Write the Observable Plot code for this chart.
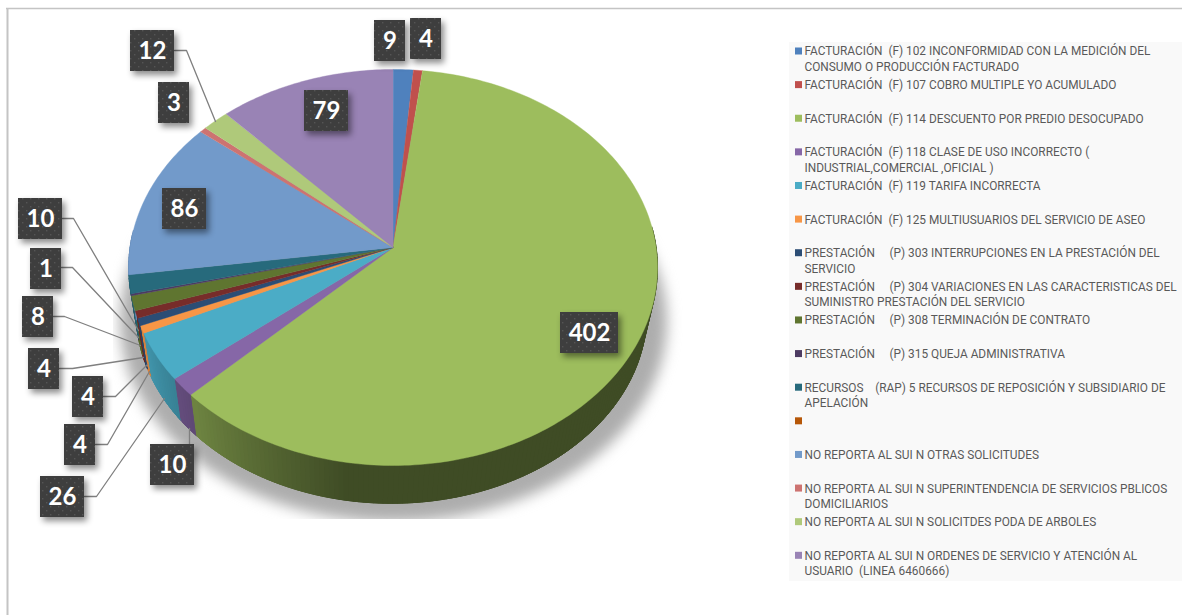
<!DOCTYPE html>
<html><head><meta charset="utf-8">
<script src="https://cdn.jsdelivr.net/npm/d3@7"></script>
<script src="https://cdn.jsdelivr.net/npm/@observablehq/plot@0.6"></script>
<style>html,body{margin:0;padding:0;background:#fff}svg{display:block}</style>
</head><body><div id="chart"></div>
<script>
const categories = [
  "FACTURACIÓN  (F) 102 INCONFORMIDAD CON LA MEDICIÓN DEL\nCONSUMO O PRODUCCIÓN FACTURADO",
  "FACTURACIÓN  (F) 107 COBRO MULTIPLE YO ACUMULADO",
  "FACTURACIÓN  (F) 114 DESCUENTO POR PREDIO DESOCUPADO",
  "FACTURACIÓN  (F) 118 CLASE DE USO INCORRECTO (\nINDUSTRIAL,COMERCIAL ,OFICIAL )",
  "FACTURACIÓN  (F) 119 TARIFA INCORRECTA",
  "FACTURACIÓN  (F) 125 MULTIUSUARIOS DEL SERVICIO DE ASEO",
  "PRESTACIÓN     (P) 303 INTERRUPCIONES EN LA PRESTACIÓN DEL\nSERVICIO",
  "PRESTACIÓN     (P) 304 VARIACIONES EN LAS CARACTERISTICAS DEL\nSUMINISTRO PRESTACIÓN DEL SERVICIO",
  "PRESTACIÓN     (P) 308 TERMINACIÓN DE CONTRATO",
  "PRESTACIÓN     (P) 315 QUEJA ADMINISTRATIVA",
  "RECURSOS    (RAP) 5 RECURSOS DE REPOSICIÓN Y SUBSIDIARIO DE\nAPELACIÓN",
  "",
  "NO REPORTA AL SUI N OTRAS SOLICITUDES",
  "NO REPORTA AL SUI N SUPERINTENDENCIA DE SERVICIOS PBLICOS\nDOMICILIARIOS",
  "NO REPORTA AL SUI N SOLICITDES PODA DE ARBOLES",
  "NO REPORTA AL SUI N ORDENES DE SERVICIO Y ATENCIÓN AL\nUSUARIO  (LINEA 6460666)"
];
const values = [9, 4, 402, 10, 26, 4, 4, 4, 8, 1, 10, 0, 86, 3, 12, 79];
const colors = ["#4f81bd","#c0504d","#9dbd5d","#8667a7","#4bacc6","#f79646","#2c4d75","#772c2a","#5f7530","#4d3b62","#276a7c","#b65708","#729aca","#cd7371","#afc97a","#9983b5"];

// layout of the hand-placed data labels: box left, box top, then leader path
const labelLeft = [374,410,560,150,40,72,64,28,22,30,18,null,162,158,130,304];
const labelTop  = [20,18,312,444,476,376,424,348,296,248,198,null,188,82,30,90];
const leaders = {
  3:[[189,428],[189,444]],
  4:[[84,496],[96,496],[164,398]],
  5:[[103,396],[115,396],[147,364]],
  6:[[95,444],[107,444],[149,371]],
  7:[[59,368],[72,368],[143,357]],
  8:[[53,316],[64,316],[140,345]],
  9:[[61,267],[72,267],[138,337]],
  10:[[62,218],[73,218],[138,330]],
  14:[[174,50],[186,50],[215,121]]
};

const W = 1182, H = 615;
const persp = 0.101;
const topFace = {cx:392.6, cy:247, rx:263, ry:196};
const baseFace = {cx:391, cy:293, rx:254, ry:188.6};
const project = (f, a) => {
  const u = Math.sin(a), v = Math.cos(a), d = 1 + persp * v;
  return [f.cx + f.rx * u / d, f.cy - f.ry * v / d];
};
const slices = d3.pie().sort(null).startAngle(0).endAngle(2 * Math.PI)(values);
const arcAngles = (s) => {
  const n = Math.max(1, Math.ceil((s.endAngle - s.startAngle) / (Math.PI / 180)));
  return d3.range(n + 1).map(i => s.startAngle + (s.endAngle - s.startAngle) * i / n);
};

// top faces
const faces = [];
slices.forEach((s, i) => {
  if (!s.value) return;
  faces.push({id:i, p:[topFace.cx, topFace.cy], c:colors[i]});
  arcAngles(s).forEach(a => faces.push({id:i, p:project(topFace, a), c:colors[i]}));
});

// side wall: painted from the right round to the left, each quad overlapping the one before
const shade = (hex, deg) => {
  const k = Math.max(0.4, Math.min(0.9, 0.4 + (deg - 190) * 0.0083));
  const c = d3.rgb(hex);
  return d3.rgb(c.r * k, c.g * k, c.b * k).formatHex();
};
const walls = [];
slices.forEach((s, i) => {
  if (!s.value) return;
  const as = arcAngles(s);
  for (let j = 0; j < as.length - 1; j++) {
    const a = as[j], b = as[j + 1];
    const deg = (a + b) / 2 * 180 / Math.PI;
    if (deg < 85 || deg > 275) continue;
    const start = Math.max(s.startAngle, a - (b - a));
    const c = shade(colors[i], deg), id = i + "-" + j;
    [project(topFace,start), project(topFace,b), project(baseFace,b), project(baseFace,start)]
      .forEach(p => walls.push({id, p, c}));
  }
});

// soft shadow under the pie
const shadowFace = {cx:393, cy:301, rx:272, ry:198};
const shadow = d3.range(0, 361, 2).map(d => ({p:project(shadowFace, d * Math.PI / 180)}));

const leaderRows = Object.entries(leaders).flatMap(([k, pts]) => pts.map(p => ({id:k, p})));
const labels = slices.map((s, i) => ({
  v: s.value, i,
  w: s.value >= 100 ? 58 : s.value >= 10 ? 44 : 31,
  x: labelLeft[i], y: labelTop[i]
})).filter(d => d.v > 0);
const legend = categories.map((t, i) => ({t, c:colors[i], row:i}));
const rowY = i => 51 + 33.62 * i;

const px = d => d.p[0], py = d => d.p[1];
const chart = Plot.plot({
  width: W, height: H, margin: 0,
  x: {domain:[0, W], range:[0, W], axis:null},
  y: {domain:[0, H], range:[0, H], axis:null},
  color: {type:"identity"},
  marks: [
    Plot.line(shadow, {x:px, y:py, fill:"#adadad", stroke:"none", imageFilter:"blur(7px)"}),
    Plot.rect([0], {x1:0, x2:W, y1:519, y2:H, fill:"#fff"}),
    Plot.rect([0], {x1:0, x2:113, y1:0, y2:H, fill:"#fff"}),
    Plot.ruleY([8], {x1:6, x2:W, stroke:"#c4c4c4", strokeWidth:1.5}),
    Plot.ruleX([7], {y1:8, y2:H, stroke:"#c4c4c4", strokeWidth:2}),
    Plot.line(walls, {x:px, y:py, z:"id", fill:"c", stroke:"c", strokeWidth:1}),
    Plot.line(faces, {x:px, y:py, z:"id", fill:"c", stroke:"c", strokeWidth:0.4}),
    Plot.line(leaderRows, {x:px, y:py, z:"id", stroke:"#7f7f7f", strokeWidth:1.3}),
    Plot.rect(labels, {x1:"x", x2:d => d.x + d.w, y1:"y", y2:d => d.y + 41, fill:"url(#dots)",
      imageFilter:"drop-shadow(3px 4px 3px rgba(0,0,0,.45))"}),
    Plot.text(labels, {x:d => d.x + d.w / 2, y:d => d.y + 21, text:d => String(d.v), fill:"#fff",
      fontFamily:"Lato", fontWeight:700, fontSize:24}),
    Plot.rect([0], {x1:789, x2:W, y1:42, y2:581, fill:"#f9f9f9"}),
    Plot.rect(legend, {x1:795, x2:802, y1:d => rowY(d.row) - 3.5, y2:d => rowY(d.row) + 3.5, fill:"c"}),
    Plot.text(legend, {x:804, y:d => rowY(d.row) - 7, text:"t", textAnchor:"start", lineAnchor:"top",
      lineHeight:1.3, fontFamily:"Roboto, sans-serif", fontSize:11.85, fill:"#595959",
      style:{textRendering:"geometricPrecision"}})
  ]
});
const defs = d3.select(chart).insert("defs", ":first-child");
const pat = defs.append("pattern").attr("id","dots").attr("width",8).attr("height",8).attr("patternUnits","userSpaceOnUse");
pat.append("rect").attr("width",8).attr("height",8).attr("fill","#3e3e3e");
pat.append("rect").attr("x",2).attr("y",2).attr("width",1.4).attr("height",1.4).attr("fill","#555555");
pat.append("rect").attr("x",6).attr("y",6).attr("width",1.4).attr("height",1.4).attr("fill","#555555");
document.getElementById("chart").append(chart);
</script></body></html>
